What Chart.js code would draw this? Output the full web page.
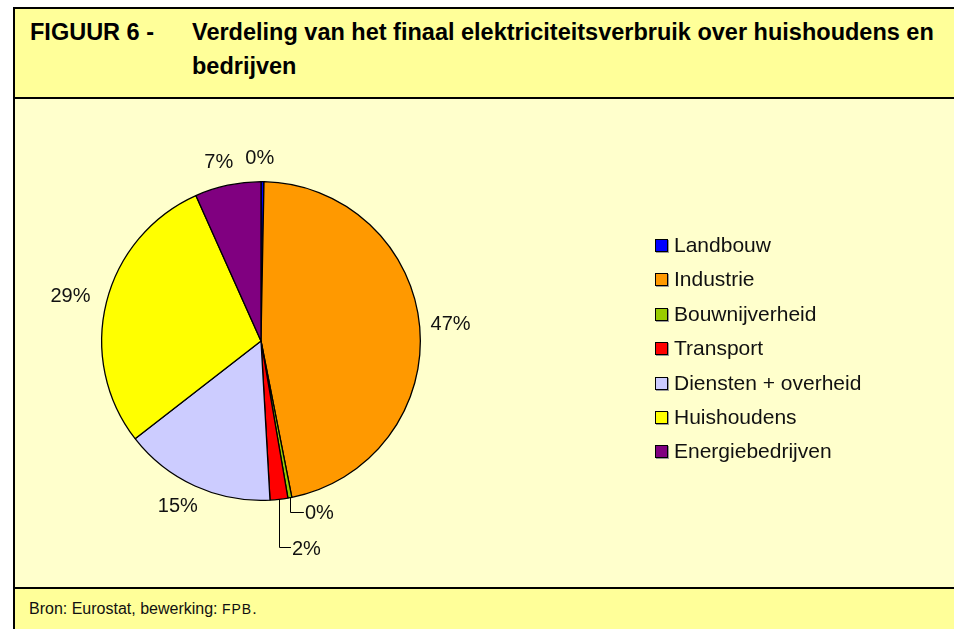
<!DOCTYPE html>
<html>
<head>
<meta charset="utf-8">
<script src="https://cdn.jsdelivr.net/npm/chart.js@4.4.0/dist/chart.umd.min.js"></script>
<style>
  body { margin: 0; background: #fff; font-family: "Liberation Sans", Arial, sans-serif; }
  .frame { position: absolute; left: 13px; top: 7px; width: 960px; height: 640px;
           border-left: 2px solid #000; border-top: 2px solid #000; }
  .header { position: absolute; left: 0; top: 0; width: 100%; height: 88px; background: #FFFF99;
            border-bottom: 2px solid #000; }
  .header .num { position: absolute; left: 15px; top: 6px; font-weight: bold; font-size: 23.5px; line-height: 34px; }
  .header .ttl { position: absolute; left: 177px; top: 6px; width: 760px; font-weight: bold;
                 font-size: 23.5px; line-height: 34px; }
  .area { position: absolute; left: 0; top: 90px; width: 100%; height: 488px; background: #FFFFCC; }
  .footer { position: absolute; left: 0; top: 578px; width: 100%; height: 60px; background: #FFFF99;
            border-top: 2px solid #000; }
  .footer .src { position: absolute; left: 14px; top: 11px; font-size: 16px; color: #111; }
  .footer .src small { font-size: 14px; letter-spacing: 1px; }
  canvas { position: absolute; left: 0; top: 0; }
  .legend { position: absolute; left: 640px; top: 135px; font-size: 21px; color: #111; }
  .legend div { height: 34.4px; line-height: 22px; white-space: nowrap; }
  .legend span { display: inline-block; width: 11px; height: 11px; border: 1px solid #000;
                 margin-right: 6px; vertical-align: 0px; box-shadow: 1px 1px 0 #999; }
</style>
</head>
<body>
<div class="frame">
  <div class="header">
    <div class="num">FIGUUR 6 -</div>
    <div class="ttl">Verdeling van het finaal elektriciteitsverbruik over huishoudens en bedrijven</div>
  </div>
  <div class="area">
    <canvas id="pie" width="940" height="488"></canvas>
    <div class="legend" id="legend"></div>
  </div>
  <div class="footer">
    <div class="src">Bron: Eurostat, bewerking: <small>FPB</small>.</div>
  </div>
</div>
<script>
const categories = ['Landbouw', 'Industrie', 'Bouwnijverheid', 'Transport',
  'Diensten + overheid', 'Huishoudens', 'Energiebedrijven'];
const shares = [0.3, 46.6, 0.4, 1.8, 15.4, 28.8, 6.7];
const shareLabels = ['0%', '47%', '0%', '2%', '15%', '29%', '7%'];
const colors = ['#0000FF', '#FF9900', '#99CC00', '#FF0000', '#CCCCFF', '#FFFF00', '#800080'];

// small slices get a leader line: drop down, then go right
const leaders = { 2: { down: 14, right: 14 }, 3: { down: 48, right: 12 } };

const labelPlugin = {
  id: 'sliceLabels',
  afterDraw(chart) {
    const ctx = chart.ctx;
    const meta = chart.getDatasetMeta(0);
    ctx.save();
    ctx.font = '20px "Liberation Sans", Arial, sans-serif';
    ctx.fillStyle = '#111';
    ctx.strokeStyle = '#000';
    ctx.lineWidth = 1;
    meta.data.forEach((arc, i) => {
      const p = arc.getProps(['x', 'y', 'startAngle', 'endAngle', 'outerRadius'], true);
      const mid = (p.startAngle + p.endAngle) / 2;
      const dx = Math.cos(mid), dy = Math.sin(mid);
      const text = shareLabels[i];
      const w = ctx.measureText(text).width, h = 18;
      if (leaders[i]) {
        const ax = p.x + dx * p.outerRadius, ay = p.y + dy * p.outerRadius;
        const ly = ay + leaders[i].down, lx = ax + leaders[i].right;
        ctx.beginPath();
        ctx.moveTo(Math.round(ax) + 0.5, ay);
        ctx.lineTo(Math.round(ax) + 0.5, Math.round(ly) + 0.5);
        ctx.lineTo(lx, Math.round(ly) + 0.5);
        ctx.stroke();
        ctx.textAlign = 'left';
        ctx.textBaseline = 'middle';
        ctx.fillText(text, lx + 1, ly + 2);
      } else {
        const r = p.outerRadius + 14;
        const cx = p.x + dx * r + dx * w / 2;
        const cy = p.y + dy * r + dy * h / 2;
        ctx.textAlign = 'center';
        ctx.textBaseline = 'middle';
        ctx.fillText(text, cx - 3, cy);
      }
    });
    ctx.restore();
  }
};

new Chart(document.getElementById('pie'), {
  type: 'pie',
  data: {
    labels: categories,
    datasets: [{
      data: shares,
      backgroundColor: colors,
      borderColor: '#000',
      borderWidth: 1.3
    }]
  },
  options: {
    responsive: false,
    animation: false,
    layout: { padding: { left: 86, right: 534, top: 82, bottom: 86 } },
    plugins: { legend: { display: false }, tooltip: { enabled: false } }
  },
  plugins: [labelPlugin]
});

const legend = document.getElementById('legend');
categories.forEach((name, i) => {
  const row = document.createElement('div');
  row.innerHTML = '<span style="background:' + colors[i] + '"></span>' + name;
  legend.appendChild(row);
});
</script>
</body>
</html>
